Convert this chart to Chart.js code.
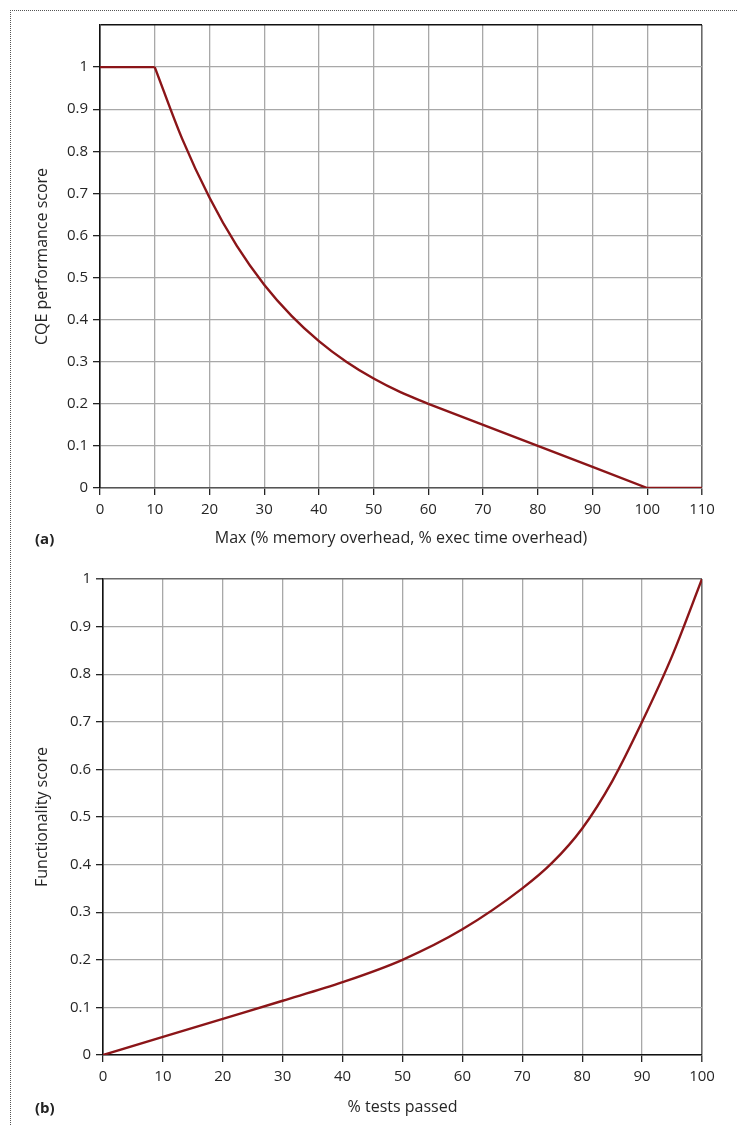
<!DOCTYPE html>
<html><head><meta charset="utf-8">
<script src="https://cdn.jsdelivr.net/npm/chart.js@4.4.1/dist/chart.umd.min.js"></script>
<style>
html,body{margin:0;padding:0;background:#fff;}
body{width:744px;height:1125px;position:relative;overflow:hidden;font-family:'Open Sans',sans-serif;}
#frame{position:absolute;left:10px;top:10px;width:726px;height:1130px;border-left:1px dotted #555;border-top:1px dotted #555;}
.wrap{position:absolute;left:0;width:744px;}
#wa{top:0;height:560px;}
#wb{top:560px;height:565px;}
.lab{position:absolute;font-weight:bold;font-size:15px;color:#222;font-family:'Open Sans',sans-serif;}
</style></head><body>
<div id="frame"></div>
<div class="wrap" id="wa"><canvas id="ca" width="744" height="560"></canvas></div>
<div class="wrap" id="wb"><canvas id="cb" width="744" height="565"></canvas></div>
<div class="lab" style="left:35px;top:528px">(a)</div>
<div class="lab" style="left:35px;top:1097px">(b)</div>
<script>
// Chart (a): CQE performance score vs max overhead
const cqeFlatX  = [0, 10];
const cqeFlatY  = [1, 1];
const cqeCurveX = [10, 15, 20, 25, 30, 35, 40, 45, 50, 55, 60];
const cqeCurveY = [1, 0.83, 0.69, 0.575, 0.483, 0.409, 0.349, 0.300, 0.260, 0.227, 0.2];
const cqeLinX   = [60, 70, 80, 90, 100, 110];
const cqeLinY   = [0.2, 0.15, 0.1, 0.05, 0, 0];
const xTicksA   = [0, 10, 20, 30, 40, 50, 60, 70, 80, 90, 100, 110];

// Chart (b): Functionality score vs % tests passed
const testsPassed = [0, 10, 20, 30, 40, 50, 60, 70, 75, 80, 85, 90, 95, 100];
const funcScore   = [0, 0.038, 0.076, 0.114, 0.153, 0.2, 0.264, 0.35, 0.404, 0.476, 0.575, 0.7, 0.838, 1];
const xTicksB     = [0, 10, 20, 30, 40, 50, 60, 70, 80, 90, 100];

const LINE = '#8b1518';
const GRID = '#a8a8a8';
const TXT = '#262626';
const FONT = {family: "'Open Sans', sans-serif", size: 15};
const TFONT = {family: "'Open Sans', sans-serif", size: 16};

function pts(xs, ys){ return xs.map((x,i)=>({x:x, y:ys[i]})); }
function fmt(v){ return String(Math.round(v*10)/10); }

function makeChart(id, cfg){
  const near = (a,b)=>Math.abs(a-b)<1e-6;
  return new Chart(document.getElementById(id), {
    type: 'line',
    data: {datasets: cfg.datasets},
    options: {
      responsive: false, animation: false, devicePixelRatio: 1,
      layout: {padding: cfg.padding},
      plugins: {legend: {display: false}, tooltip: {enabled: false}},
      elements: {point: {radius: 0}, line: {borderWidth: 2.4, borderColor: LINE}},
      scales: {
        x: {
          type: 'linear', min: cfg.xMin, max: cfg.xMax,
          afterBuildTicks: s => { s.ticks = cfg.xTicks.map(v=>({value:v})); },
          afterFit: s => { s.height = cfg.xHeight; },
          ticks: {color: TXT, font: FONT, padding: 6, maxRotation: 0, autoSkip: false, callback: v => String(v)},
          grid: {
            color: c => near(c.tick.value, cfg.xMax) ? '#6a6a6a' : GRID,
            lineWidth: c => near(c.tick.value, cfg.xMax) ? 1.6 : 1.3,
            tickLength: 7, tickColor: '#222', tickWidth: 1.3
          },
          border: {color: cfg.xBorder, width: 1.6},
          title: {display: true, text: cfg.xTitle, color: TXT, font: TFONT, padding: {top: 0, bottom: cfg.xTitlePad}}
        },
        y: {
          type: 'linear', min: 0, max: cfg.yMax,
          afterBuildTicks: s => { const t=[]; for(let i=0;i<=Math.round(cfg.yMax*10);i++) t.push({value:i/10}); s.ticks=t; },
          afterFit: s => { s.width = cfg.yWidth; },
          ticks: {color: TXT, font: FONT, padding: 5, callback: v => (v > 1.0001 ? '' : fmt(v))},
          grid: {
            color: c => near(c.tick.value, cfg.yMax) ? cfg.topColor : GRID,
            lineWidth: c => near(c.tick.value, cfg.yMax) ? 1.6 : 1.3,
            tickLength: 7,
            tickColor: c => (c.tick.value > 1.0001 ? 'rgba(0,0,0,0)' : '#222'),
            tickWidth: 1.3
          },
          border: {color: '#111', width: 1.6},
          title: {display: true, text: cfg.yTitle, color: TXT, font: TFONT, padding: {top: cfg.yTitlePad, bottom: 0}}
        }
      }
    }
  });
}

makeChart('ca', {
  datasets: [
    {data: pts(cqeFlatX, cqeFlatY), tension: 0},
    {data: pts(cqeCurveX, cqeCurveY), cubicInterpolationMode: 'monotone'},
    {data: pts(cqeLinX, cqeLinY), tension: 0}
  ],
  padding: {left: 0, top: 25, right: 42, bottom: 0},
  xMin: 0, xMax: 110, xTicks: xTicksA, xHeight: 72, xBorder: '#555', xTitlePad: 12,
  xTitle: 'Max (% memory overhead, % exec time overhead)',
  yMax: 1.1, yWidth: 100, yTitlePad: 33, topColor: '#111',
  yTitle: 'CQE performance score'
});

makeChart('cb', {
  datasets: [
    {data: pts(testsPassed, funcScore), cubicInterpolationMode: 'monotone'}
  ],
  padding: {left: 0, top: 19, right: 42, bottom: 0},
  xMin: 0, xMax: 100, xTicks: xTicksB, xHeight: 70, xBorder: '#111', xTitlePad: 8,
  xTitle: '% tests passed',
  yMax: 1, yWidth: 103, yTitlePad: 33, topColor: '#6a6a6a',
  yTitle: 'Functionality score'
});
</script>
</body></html>
